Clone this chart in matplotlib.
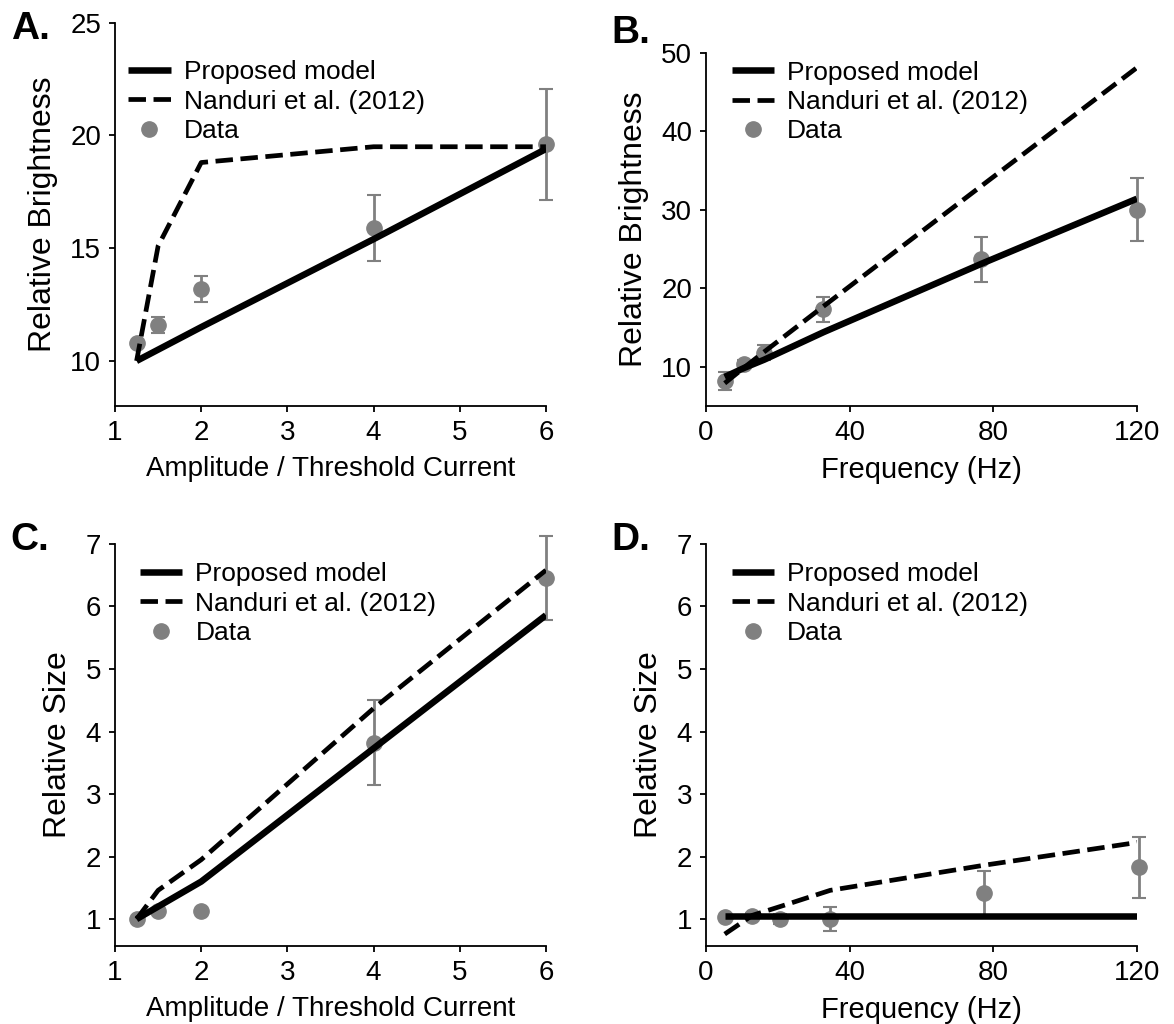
import matplotlib
matplotlib.use("Agg")
import matplotlib.pyplot as plt

plt.rcParams['font.family'] = ['Liberation Sans', 'DejaVu Sans']

# panel A: brightness vs amplitude
amp_x = [1.25, 1.5, 2, 4, 6]
amp_bright = [10.8, 11.6, 13.2, 15.9, 19.6]
amp_bright_err = [0.0, 0.35, 0.58, 1.48, 2.47]
amp_bright_model = [10.0, 10.5, 11.5, 15.4, 19.4]
amp_bright_nanduri = [10.0, 15.1, 18.8, 19.5, 19.5]

# panel B: brightness vs frequency
freq_x_b = [5.2, 10.6, 16.2, 32.7, 76.6, 120]
freq_bright = [8.2, 10.4, 11.8, 17.3, 23.7, 30.0]
freq_bright_err = [1.1, 0.4, 0.95, 1.6, 2.85, 4.0]
freq_bright_model = [8.7, 9.85, 10.9, 14.4, 23.1, 31.4]
freq_bright_nanduri = [7.9, 9.9, 11.9, 17.7, 33.0, 48.1]

# panel C: size vs amplitude
amp_size = [1.0, 1.13, 1.13, 3.82, 6.46]
amp_size_err = [0.0, 0.0, 0.0, 0.68, 0.67]
amp_size_model = [1.0, 1.2, 1.6, 3.73, 5.86]
amp_size_nanduri = [1.0, 1.46, 1.95, 4.37, 6.58]

# panel D: size vs frequency
freq_x_d = [5.2, 12.9, 20.6, 34.6, 77.3, 120.6]
freq_size = [1.03, 1.05, 1.0, 1.0, 1.41, 1.83]
freq_size_err = [0.0, 0.05, 0.08, 0.19, 0.36, 0.49]
freq_size_model = [1.05, 1.05, 1.05, 1.05, 1.05, 1.05]
freq_size_nanduri = [0.76, 1.06, 1.2, 1.46, 1.86, 2.23]

gray = '#808080'

fig = plt.figure(figsize=(11.74, 10.24), dpi=100)

panels = [
    # rect, x, data, err, model, nanduri, xlim, ylim, xticks, yticks, xlabel, ylabel, letter, letter pos, legend anchor
    ([0.098, 0.6035, 0.367, 0.3743], amp_x, amp_bright, amp_bright_err, amp_bright_model, amp_bright_nanduri,
     (1, 6), (8, 25), [1, 2, 3, 4, 5, 6], [10, 15, 20, 25],
     'Amplitude / Threshold Current', 'Relative Brightness', 'A.', (0.009, 1 - 11 / 1024), (-0.012, 0.95)),
    ([0.6014, 0.6035, 0.367, 0.345], freq_x_b, freq_bright, freq_bright_err, freq_bright_model, freq_bright_nanduri,
     (0, 120), (5, 50), [0, 40, 80, 120], [10, 20, 30, 40, 50],
     'Frequency (Hz)', 'Relative Brightness', 'B.', (0.521, 1 - 15 / 1024), (0.017, 1.03)),
    ([0.098, 0.0762, 0.367, 0.3926], amp_x, amp_size, amp_size_err, amp_size_model, amp_size_nanduri,
     (1, 6), (0.57, 7), [1, 2, 3, 4, 5, 6], [1, 2, 3, 4, 5, 6, 7],
     'Amplitude / Threshold Current', 'Relative Size', 'C.', (0.009, 1 - 522 / 1024), (0.015, 1.0)),
    ([0.6014, 0.0762, 0.367, 0.3926], freq_x_d, freq_size, freq_size_err, freq_size_model, freq_size_nanduri,
     (0, 120), (0.57, 7), [0, 40, 80, 120], [1, 2, 3, 4, 5, 6, 7],
     'Frequency (Hz)', 'Relative Size', 'D.', (0.521, 1 - 522 / 1024), (0.017, 1.0)),
]

for (rect, x, y, yerr, model, nanduri, xlim, ylim, xticks, yticks,
     xlabel, ylabel, letter, letter_xy, anchor) in panels:
    ax = fig.add_axes(rect)
    eb = ax.errorbar(x, y, yerr=yerr, fmt='o', color=gray, ecolor=gray, markersize=11,
                     elinewidth=2, capsize=5, capthick=1.5, zorder=2, clip_on=False)
    l1, = ax.plot(x, model, color='black', lw=4.7, solid_capstyle='butt', zorder=3)
    l2, = ax.plot(x, nanduri, color='black', lw=3.4, ls='--', zorder=3)

    ax.set_xlim(*xlim)
    ax.set_ylim(*ylim)
    ax.set_xticks(xticks)
    ax.set_yticks(yticks)
    ax.spines['top'].set_visible(False)
    ax.spines['right'].set_visible(False)
    for s in ('left', 'bottom'):
        ax.spines[s].set_linewidth(1.3)
    ax.tick_params(labelsize=20, length=4, width=1.3, pad=6)
    xl_size = 20 if xlabel.startswith('Amp') else 21
    ax.set_xlabel(xlabel, fontsize=xl_size, labelpad=7)
    ax.set_ylabel(ylabel, fontsize=23, labelpad=9)

    ax.legend([l1, l2, eb[0]], ['Proposed model', 'Nanduri et al. (2012)', 'Data'], loc='upper left',
              bbox_to_anchor=anchor, frameon=False, fontsize=19, handlelength=1.6,
              handletextpad=0.5, labelspacing=0.2, borderaxespad=0.3)

    fig.text(letter_xy[0], letter_xy[1], letter, fontsize=28, fontweight='bold', va='top', ha='left')

fig.savefig('out.png', dpi=100)
